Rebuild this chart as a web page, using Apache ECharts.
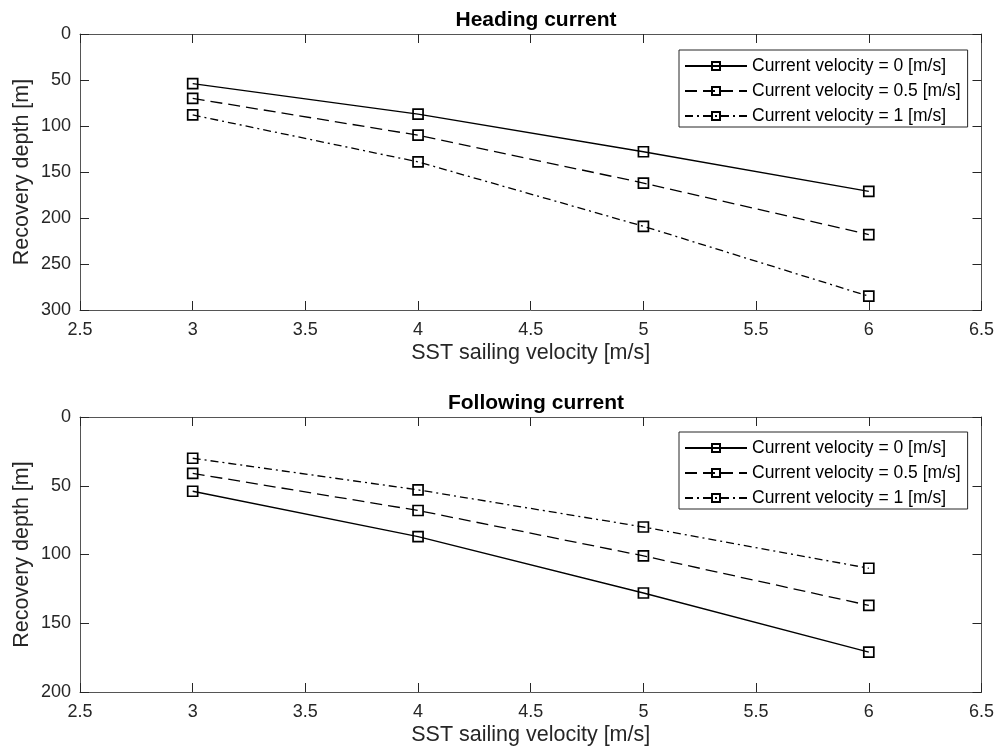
<!DOCTYPE html>
<html>
<head>
<meta charset="utf-8">
<script src="https://cdn.jsdelivr.net/npm/echarts@6/dist/echarts.min.js"></script>
<style>
	html, body { margin: 0; padding: 0; background: #fff; }
	#chart { width: 997px; height: 756px; }
</style>
</head>
<body>
<div id="chart"></div>
<script>
// sailing velocity of the SST [m/s]
var sailingVelocity = [3, 4, 5, 6];

// recovery depth [m], heading current
var headingV0 = [54, 87, 128, 171];
var headingV05 = [70, 110, 162, 218];
var headingV1 = [88, 139, 209, 285];

// recovery depth [m], following current
var followingV0 = [54, 87, 128, 171];
var followingV05 = [41, 68, 101, 137];
var followingV1 = [30, 53, 80, 110];

var seriesNames = ['Current velocity = 0 [m/s]', 'Current velocity = 0.5 [m/s]', 'Current velocity = 1 [m/s]'];
var plotTitles = ['Heading current', 'Following current'];

var fontFam = 'Liberation Sans, Arial, Helvetica, sans-serif';
var textColor = '#262626';
var axisColor = '#555';
var tickColor = '#262626';
var lineTypes = ['solid', [12, 6], [8, 4, 2, 4]];

function pairs(xs, ys) {
	var out = [];
	for (var i = 0; i < xs.length; i++) {
		out.push([xs[i], ys[i]]);
	}
	return out;
}

function makeXAxis(gridIdx, pos, showLabel) {
	return {
		type: 'value',
		gridIndex: gridIdx,
		position: pos,
		min: 2.5,
		max: 6.5,
		interval: 0.5,
		name: showLabel ? 'SST sailing velocity [m/s]' : '',
		nameLocation: 'middle',
		nameGap: 32,
		nameTextStyle: { color: textColor, fontSize: 21.5, fontFamily: fontFam },
		axisLine: { show: true, onZero: false, lineStyle: { color: axisColor, width: 1 } },
		axisTick: { show: true, inside: true, length: 9, lineStyle: { color: tickColor } },
		axisLabel: { show: showLabel, color: textColor, fontSize: 18, fontFamily: fontFam, margin: 11 },
		splitLine: { show: false }
	};
}

function makeYAxis(gridIdx, pos, maxVal, showLabel) {
	return {
		type: 'value',
		gridIndex: gridIdx,
		position: pos,
		inverse: true,
		min: 0,
		max: maxVal,
		interval: 50,
		name: showLabel ? 'Recovery depth [m]' : '',
		nameLocation: 'middle',
		nameGap: 47,
		nameMoveOverlap: false,
		nameTextStyle: { color: textColor, fontSize: 21.5, fontFamily: fontFam },
		axisLine: { show: true, onZero: false, lineStyle: { color: axisColor, width: 1 } },
		axisTick: { show: true, inside: true, length: 9, lineStyle: { color: tickColor } },
		axisLabel: { show: showLabel, color: textColor, fontSize: 18, fontFamily: fontFam, margin: 9 },
		splitLine: { show: false }
	};
}

function makeSeries(idx, gridIdx, ys) {
	return {
		name: seriesNames[idx],
		type: 'line',
		xAxisIndex: gridIdx * 2,
		yAxisIndex: gridIdx * 2,
		data: pairs(sailingVelocity, ys),
		symbol: 'rect',
		symbolSize: 10,
		showAllSymbol: true,
		animation: false,
		lineStyle: { color: '#000', width: 1.3, type: lineTypes[idx] },
		itemStyle: { color: 'rgba(255,255,255,0)', borderColor: '#000', borderWidth: 1.7 },
		emphasis: { disabled: true }
	};
}

function makeLegend(top) {
	return {
		orient: 'vertical',
		left: 679,
		top: top,
		padding: [7, 7, 2, 5],
		itemGap: 7,
		itemWidth: 62,
		itemHeight: 10,
		borderColor: '#262626',
		borderWidth: 1,
		backgroundColor: '#fff',
		selectedMode: false,
		data: seriesNames.map(function(n) {
			return { name: n };
		}),
		textStyle: { color: '#000', fontSize: 17.5, fontFamily: fontFam }
	};
}

var chart = echarts.init(document.getElementById('chart'), null, { renderer: 'canvas' });

var option = {
	backgroundColor: '#fff',
	animation: false,
	title: [
		{ text: plotTitles[0], left: 531, top: 5, textAlign: 'center',
			textStyle: { color: '#000', fontSize: 21, fontWeight: 'bold', fontFamily: fontFam } },
		{ text: plotTitles[1], left: 531, top: 388, textAlign: 'center',
			textStyle: { color: '#000', fontSize: 21, fontWeight: 'bold', fontFamily: fontFam } }
	],
	legend: [makeLegend(50), makeLegend(432)],
	grid: [
		{ left: 80, top: 34, width: 902, height: 276 },
		{ left: 80, top: 417, width: 902, height: 275 }
	],
	xAxis: [
		makeXAxis(0, 'bottom', true),
		makeXAxis(0, 'top', false),
		makeXAxis(1, 'bottom', true),
		makeXAxis(1, 'top', false)
	],
	yAxis: [
		makeYAxis(0, 'left', 300, true),
		makeYAxis(0, 'right', 300, false),
		makeYAxis(1, 'left', 200, true),
		makeYAxis(1, 'right', 200, false)
	],
	series: [
		makeSeries(0, 0, headingV0),
		makeSeries(1, 0, headingV05),
		makeSeries(2, 0, headingV1),
		makeSeries(0, 1, followingV0),
		makeSeries(1, 1, followingV05),
		makeSeries(2, 1, followingV1)
	]
};

chart.setOption(option);
</script>
</body>
</html>
